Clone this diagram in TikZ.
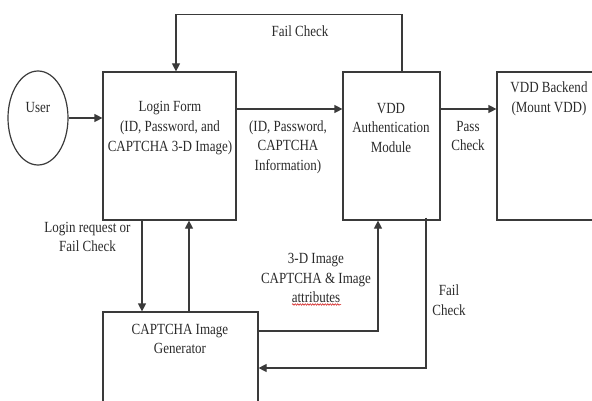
\documentclass[tikz,border=0pt]{standalone}
\usepackage{fontspec}
\setmainfont{Liberation Serif}[FakeStretch=0.84]
\usetikzlibrary{arrows.meta,shapes.geometric,decorations.pathmorphing}
\definecolor{ink}{HTML}{2A2A2A}
\definecolor{linec}{HTML}{3A3A3A}
\tikzset{
  box/.style={draw=linec, line width=1.2pt, rectangle, inner sep=0pt},
  txt/.style={text=ink, align=center, font=\fontsize{15.5}{19.7}\selectfont, inner sep=0pt},
  conn/.style={draw=linec, line width=1.2pt},
  arr/.style={conn, -{Triangle[length=8pt,width=8pt]}}
}
\begin{document}
\begin{tikzpicture}[x=1pt,y=-1pt]
\useasboundingbox (0,0) rectangle (592,401);
\clip (0,0) rectangle (592,401);
% shapes
\node[draw=linec, line width=1.2pt, ellipse, minimum width=60pt, minimum height=94pt, inner sep=0pt] (user) at (38,118) {};
\node[box, minimum width=133pt, minimum height=148pt] (login) at (169.5,146) {};
\node[box, minimum width=97pt, minimum height=148pt] (auth) at (391.5,146) {};
\node[box, minimum width=123pt, minimum height=148pt] (backend) at (558.5,146) {};
\node[box, minimum width=155pt, minimum height=118pt] (captcha) at (180.5,371) {};
% texts inside shapes
\node[txt] (usert) at (38,108) {User};
\node[txt] (logint) at (170,128) {Login Form\\(ID, Password, and\\CAPTCHA 3-D Image)};
\node[txt] (autht) at (391,128) {VDD\\Authentication\\Module};
\node[txt] (backendt) at (549,99) {VDD Backend\\(Mount VDD)};
\node[txt] (captchat) at (180,339) {CAPTCHA Image\\Generator};
% connectors
\draw[arr] (user.east) -- (login.west |- user.east);
\draw[arr] ([yshift=37pt]login.east) -- ([yshift=37pt]auth.west);
\draw[arr] ([yshift=37pt]auth.east) -- ([yshift=37pt]backend.west);
\draw[arr] ([xshift=10.5pt]auth.north) -- ++(0,-57) -| ([xshift=6.5pt]login.north);
\draw[arr] ([xshift=-27.5pt]login.south) -- ([xshift=-27.5pt]login.south |- captcha.north);
\draw[arr] ([xshift=8.5pt]captcha.north) -- ([xshift=8.5pt]captcha.north |- login.south);
\draw[arr] ([yshift=40pt]captcha.east) -| ([xshift=-13.5pt]auth.south);
\draw[arr] ([xshift=34.5pt,yshift=3pt]auth.south) |- ([yshift=3pt]captcha.east);
% connector labels
\node[txt] (l1) at (300,31) {Fail Check};
\node[txt] (l2) at (288,147) {(ID, Password,\\CAPTCHA\\Information)};
\node[txt] (l3) at (468,136) {Pass\\Check};
\node[txt] (l4) at (87.5,237) {Login request or\\Fail Check};
\node[txt] (l5) at (316,278) {3-D Image\\CAPTCHA \& Image\\attributes};
\node[txt] (l6) at (449,300) {Fail\\Check};
\draw[red!80!black, line width=0.5pt, decorate, decoration={snake, amplitude=0.8pt, segment length=2.5pt}] (292,304.5) -- (341,304.5);
\end{tikzpicture}
\end{document}
